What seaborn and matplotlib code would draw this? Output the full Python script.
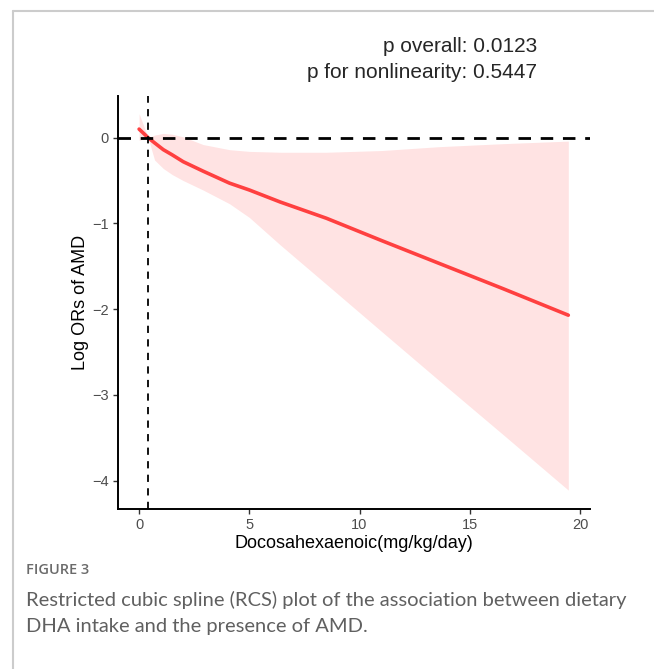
import matplotlib
matplotlib.use("Agg")
import matplotlib.pyplot as plt
import seaborn as sns
import pandas as pd
from matplotlib.lines import Line2D

# ==========================================
# DATA
# ==========================================

dha = [0, 0.41, 0.7, 1.1, 1.5, 2.0, 2.9, 4.1, 5.0, 6.4, 8.5, 11, 13.6, 16.5, 19.47]
log_or = [0.10, 0.0, -0.06, -0.14, -0.20, -0.28, -0.39, -0.53, -0.61, -0.75, -0.94, -1.20, -1.465, -1.76, -2.07]
ci_upper = [0.28, 0.0, 0.03, 0.05, 0.04, 0.01, -0.08, -0.14, -0.16, -0.17, -0.17, -0.15, -0.105, -0.07, -0.04]
ci_lower = [-0.03, 0.0, -0.26, -0.36, -0.43, -0.50, -0.61, -0.77, -0.93, -1.25, -1.71, -2.26, -2.83, -3.46, -4.11]

ref_x = 0.41
x_ticks = [0, 5, 10, 15, 20]
y_ticks = [0, -1, -2, -3, -4]

p_text = ["p overall: 0.0123", "p for nonlinearity: 0.5447"]
x_label = "Docosahexaenoic(mg/kg/day)"
y_label = "Log ORs of AMD"
fig_label = "FIGURE 3"
caption = ["Restricted cubic spline (RCS) plot of the association between dietary",
           "DHA intake and the presence of AMD."]

df = pd.DataFrame({"DHA": dha, "logOR": log_or, "lo": ci_lower, "hi": ci_upper})

# ==========================================
# PLOT
# ==========================================

sns.set_style("white")
plt.rcParams["font.family"] = ["Liberation Sans", "DejaVu Sans"]

fig = plt.figure(figsize=(6.54, 6.69), dpi=100)
ax = fig.add_axes([0.180, 0.2392, 0.722, 0.6173])

ax.fill_between(df["DHA"], df["lo"], df["hi"], color="#ffe3e3", linewidth=0)
sns.lineplot(data=df, x="DHA", y="logOR", ax=ax, color="#ff4040", linewidth=2.6)

ax.axhline(0, color="black", linestyle=(0, (4.5, 3.5)), linewidth=2.0)
ax.axvline(ref_x, color="black", linestyle=(0, (4, 3.5)), linewidth=1.3)

ax.set_xlim(-0.97, 20.45)
ax.set_ylim(-4.33, 0.486)
ax.set_xticks(x_ticks)
ax.set_yticks(y_ticks)
ax.set_yticklabels(["0", "\u22121", "\u22122", "\u22123", "\u22124"])

ax.tick_params(axis="both", length=3.5, width=1, color="#333333",
               labelcolor="#4d4d4d", labelsize=10.5, left=True, bottom=True, pad=3)

for side in ["top", "right"]:
    ax.spines[side].set_visible(False)
for side in ["left", "bottom"]:
    ax.spines[side].set_color("black")
    ax.spines[side].set_linewidth(1.4)

ax.set_xlabel(x_label, fontsize=13, color="black", labelpad=2)
ax.set_ylabel(y_label, fontsize=13, color="black", labelpad=2)

fig.text(0.821, 0.930, p_text[0], ha="right", va="center", fontsize=15)
fig.text(0.821, 0.891, p_text[1], ha="right", va="center", fontsize=15)

# page frame and caption
fig.add_artist(Line2D([0.02, 0.02], [0, 0.9835], transform=fig.transFigure,
                      color="#cccccc", linewidth=1.5))
fig.add_artist(Line2D([0.02, 1.0], [0.9835, 0.9835], transform=fig.transFigure,
                      color="#cccccc", linewidth=1.5))

fig.text(0.040, 0.148, fig_label, ha="left", va="center", fontsize=10.5,
         color="#6b6b6b", family=["Open Sans", "DejaVu Sans"], weight="semibold")
fig.text(0.040, 0.103, caption[0], ha="left", va="center", fontsize=14.5,
         color="#606060", family=["Lato", "DejaVu Sans"])
fig.text(0.040, 0.064, caption[1], ha="left", va="center", fontsize=14.5,
         color="#606060", family=["Lato", "DejaVu Sans"])

fig.savefig("out.png", dpi=100)
